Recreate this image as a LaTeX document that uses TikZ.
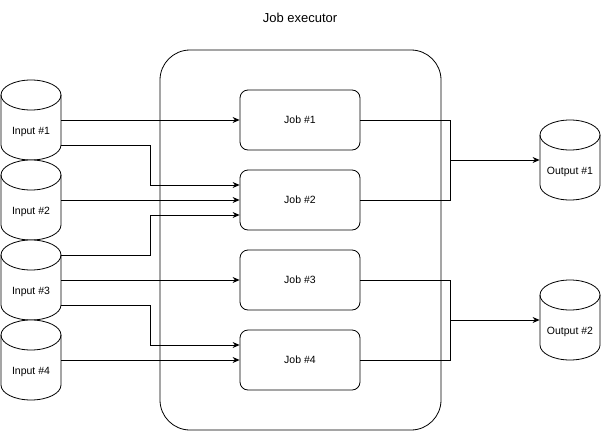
\documentclass[tikz,border=0pt]{standalone}
\usepackage{fontspec}
\setmainfont{Liberation Sans}
\usetikzlibrary{arrows.meta}
\begin{document}
\begin{tikzpicture}[x=1pt,y=-1pt,line width=0.8pt,
  jobbox/.style={draw,rounded corners=8pt,minimum width=120pt,minimum height=60pt,font=\fontsize{10.5}{12}\selectfont},
  lbl/.style={font=\fontsize{10.5}{12}\selectfont},
  arr/.style={-{Stealth[length=7pt,width=6pt]}}]
\useasboundingbox (0,0) rectangle (601,431);
\node[font=\fontsize{13}{15}\selectfont] (title) at (300,18) {Job executor};
\draw[rounded corners=30pt] (160,50) rectangle (441,430);
\node[jobbox] (j1) at (300,120) {Job \#1};
\node[jobbox] (j2) at (300,200) {Job \#2};
\node[jobbox] (j3) at (300,280) {Job \#3};
\node[jobbox] (j4) at (300,360) {Job \#4};
% cylinders
\foreach \n/\cx/\cy/\t in {i1/31/120/Input \#1,i2/31/200/Input \#2,i3/31/280/Input \#3,i4/31/360/Input \#4,o1/570/160/Output \#1,o2/570/320/Output \#2}{
  \fill[white] (\cx-30,\cy-25) arc[start angle=180,end angle=360,x radius=30,y radius=15] -- (\cx+30,\cy+25) arc[start angle=0,end angle=180,x radius=30,y radius=15] -- cycle;
  \fill[white] (\cx,\cy-25) ellipse[x radius=30,y radius=15];
  \draw (\cx,\cy-25) ellipse[x radius=30,y radius=15];
  \draw (\cx-30,\cy-25) -- (\cx-30,\cy+25) arc[start angle=180,end angle=0,x radius=30,y radius=15] -- (\cx+30,\cy-25);
  \node[lbl,minimum width=60pt,minimum height=80pt] (\n) at (\cx,\cy+12) {\t};
}
\coordinate (a1) at (61,120); \coordinate (a2) at (61,145);
\coordinate (b1) at (61,200);
\coordinate (c1) at (61,255); \coordinate (c2) at (61,280); \coordinate (c3) at (61,305);
\coordinate (d1) at (61,360);
\draw[arr] (a1) -- (j1.west);
\draw[arr] (a2) -- (150,145) -- (150,185) -- (j2.west|-0,185);
\draw[arr] (b1) -- (j2.west);
\draw[arr] (c1) -- (150,255) -- (150,215) -- (j2.west|-0,215);
\draw[arr] (c2) -- (j3.west);
\draw[arr] (c3) -- (150,305) -- (150,345) -- (j4.west|-0,345);
\draw[arr] (d1) -- (j4.west);
\draw (j1.east) -- (450,120) -- (450,200) -- (j2.east);
\draw[arr] (450,160) -- (o1.west|-0,160);
\draw (j3.east) -- (450,280) -- (450,360) -- (j4.east);
\draw[arr] (450,320) -- (o2.west|-0,320);
\end{tikzpicture}
\end{document}
